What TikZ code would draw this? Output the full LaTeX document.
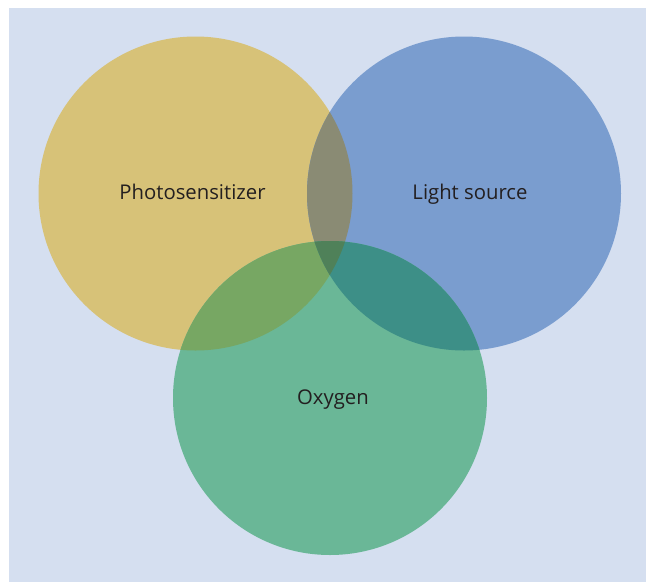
\documentclass[tikz,border=0pt]{standalone}
\usepackage{fontspec}
\setmainfont{Open Sans}
\definecolor{bg}{HTML}{D5DFF0}
\definecolor{cy}{HTML}{D7C278}
\definecolor{cb}{HTML}{7A9DCF}
\definecolor{cg}{HTML}{6AB797}
\definecolor{cyb}{HTML}{8A8B74}
\definecolor{cyg}{HTML}{77A763}
\definecolor{cbg}{HTML}{3D8F87}
\definecolor{cybg}{HTML}{4F8159}
\definecolor{txt}{HTML}{231F20}
\tikzset{lbl/.style={text=txt,font=\fontsize{20.3}{24}\selectfont,inner sep=0pt,anchor=base}}
\begin{document}
\begin{tikzpicture}[x=1pt,y=-1pt]
\useasboundingbox (0,0) rectangle (646,582);
\fill[white] (0,0) rectangle (646,582);
\fill[bg] (9,8) rectangle (646,582);
\coordinate (P) at (195.5,193.5);
\coordinate (L) at (464,193.5);
\coordinate (O) at (330,398);
\def\R{157}
\fill[cy] (P) circle (\R);
\fill[cb] (L) circle (\R);
\fill[cg] (O) circle (\R);
\begin{scope}
\clip (P) circle (\R);
\fill[cyb] (L) circle (\R);
\fill[cyg] (O) circle (\R);
\end{scope}
\begin{scope}
\clip (L) circle (\R);
\fill[cbg] (O) circle (\R);
\end{scope}
\begin{scope}
\clip (P) circle (\R);
\clip (L) circle (\R);
\fill[cybg] (O) circle (\R);
\end{scope}
\node[lbl] (tp) at (192.5,199) {Photosensitizer};
\node[lbl] (tl) at (470,199) {Light source};
\node[lbl] (to) at (333,404) {Oxygen};
\end{tikzpicture}
\end{document}
